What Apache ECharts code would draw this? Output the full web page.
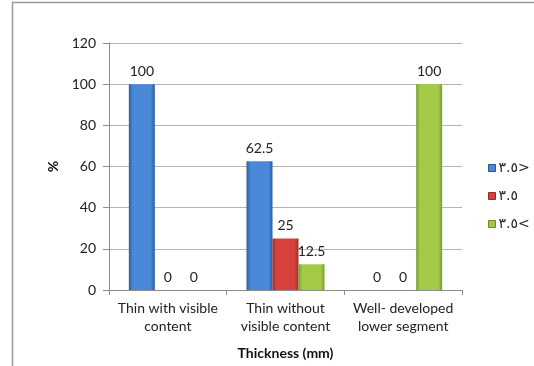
<!DOCTYPE html>
<html>
<head>
<meta charset="utf-8">
<script src="https://cdn.jsdelivr.net/npm/echarts@6/dist/echarts.min.js"></script>
<style>
  html, body { margin: 0; padding: 0; background: #fff; }
  #chart { width: 534px; height: 366px; }
</style>
</head>
<body>
<div id="chart"></div>
<script>
// Categories along the x axis
const categories = ['Thin with visible\ncontent', 'Thin without\nvisible content', 'Well- developed\nlower segment'];
// Series names (legend)
const seriesNames = ['٣.٥>', '٣.٥', '٣.٥<'];
// Percentages per series
const lessThan = [100, 62.5, 0];
const equal = [0, 25, 0];
const greaterThan = [0, 12.5, 100];
// Y axis ticks
const yMin = 0, yMax = 120, yStep = 20;

const FONT = 'Lato, "DejaVu Sans", sans-serif';

// Horizontal bevel-like gradient for each bar colour
function bevel(edge, mid) {
  return new echarts.graphic.LinearGradient(0, 0, 1, 0, [
    { offset: 0, color: edge },
    { offset: 0.15, color: mid },
    { offset: 0.85, color: mid },
    { offset: 1, color: edge }
  ]);
}

const palette = [
  { edge: '#2c5e9e', mid: '#4a88d8', border: '#2a558f' },
  { edge: '#9e2d2a', mid: '#d6423e', border: '#962a27' },
  { edge: '#7a9a2e', mid: '#a3cb48', border: '#6f8c2a' }
];

const dataSets = [lessThan, equal, greaterThan];

const chart = echarts.init(document.getElementById('chart'), null, { renderer: 'canvas' });

chart.setOption({
  animation: false,
  backgroundColor: '#ffffff',
  textStyle: { fontFamily: FONT },
  graphic: [{
    type: 'rect',
    shape: { x: 12.5, y: 2.5, width: 600, height: 500 },
    style: { fill: 'none', stroke: '#9a9a9a', lineWidth: 1.5 },
    silent: true,
    z: 100
  }],
  grid: { left: 109, right: 72, top: 43, bottom: 76 },
  legend: {
    orient: 'vertical',
    left: 483,
    top: 156,
    itemWidth: 7,
    itemHeight: 7,
    itemGap: 14,
    icon: 'rect',
    textStyle: { fontSize: 14, color: '#222', fontFamily: '"DejaVu Sans", sans-serif', padding: [0, 0, 0, -2] },
    data: seriesNames.map((name, i) => ({
      name: name,
      itemStyle: { color: palette[i].mid, borderColor: palette[i].border, borderWidth: 1 }
    }))
  },
  xAxis: {
    type: 'category',
    data: categories,
    name: 'Thickness (mm)',
    nameLocation: 'middle',
    nameGap: 56,
    nameTextStyle: { fontSize: 14, fontWeight: 'bold', color: '#111', fontFamily: FONT },
    axisLine: { lineStyle: { color: '#8c8c8c', width: 1 } },
    axisTick: { show: true, length: 5, lineStyle: { color: '#8c8c8c' } },
    axisLabel: { interval: 0, fontSize: 14, color: '#222', lineHeight: 18, margin: 9, fontFamily: FONT }
  },
  yAxis: {
    type: 'value',
    min: yMin,
    max: yMax,
    interval: yStep,
    name: '%',
    nameLocation: 'middle',
    nameGap: 40,
    nameRotate: 90,
    nameTextStyle: { fontSize: 14, fontWeight: 'bold', color: '#111', fontFamily: FONT },
    axisLine: { show: true, lineStyle: { color: '#8c8c8c', width: 1 } },
    axisTick: { show: true, length: 6, lineStyle: { color: '#8c8c8c' } },
    axisLabel: { fontSize: 14, color: '#222', margin: 13, fontFamily: FONT },
    splitLine: { lineStyle: { color: '#b4b4b4', width: 1 } }
  },
  series: seriesNames.map((name, i) => ({
    name: name,
    type: 'bar',
    data: dataSets[i],
    barWidth: 26,
    barGap: '0%',
    emphasis: { disabled: true },
    itemStyle: {
      color: bevel(palette[i].edge, palette[i].mid),
      borderWidth: 0
    },
    label: {
      show: true,
      position: 'top',
      distance: 6,
      fontSize: 14,
      color: '#222',
      fontFamily: FONT
    }
  }))
});
</script>
</body>
</html>
